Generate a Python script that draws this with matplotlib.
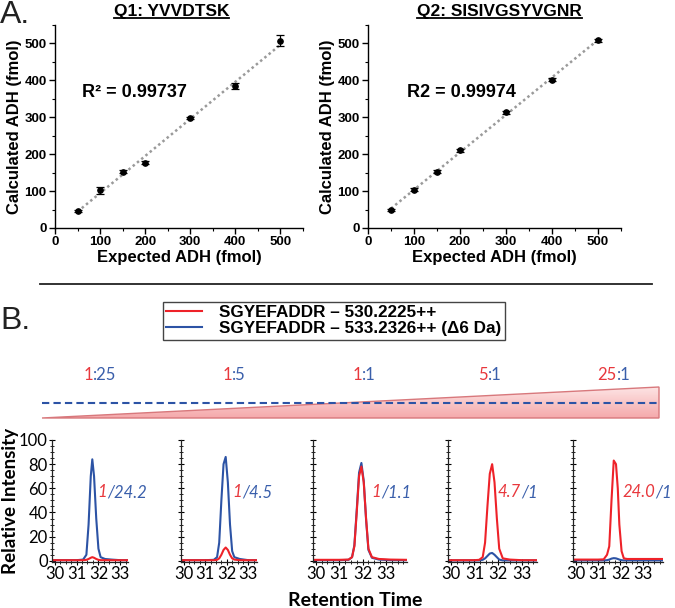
import numpy as np
import matplotlib.pyplot as plt
from matplotlib.ticker import MultipleLocator
from matplotlib.patches import Polygon
from matplotlib.colors import LinearSegmentedColormap

W, H = 675, 608
plt.rcParams['font.family'] = ['Liberation Sans', 'DejaVu Sans']

# ---- panel A: calibration data
expected = [50, 100, 150, 200, 300, 400, 500]
q1_calc = [45, 102, 153, 177, 298, 384, 508]
q1_err = [3, 10, 4, 4, 4, 8, 15]
q2_calc = [48, 104, 153, 211, 313, 402, 509]
q2_err = [3, 4, 4, 4, 4, 4, 4]
q_titles = ["Q1: YVVDTSK", "Q2: SISIVGSYVGNR"]
r2_labels = ["R\u00b2 = 0.99737", "R2 = 0.99974"]

# ---- panel B: extracted ion chromatograms (light red / heavy blue)
legend_labels = ["SGYEFADDR \u2013 530.2225++", "SGYEFADDR \u2013 533.2326++ (\u03946 Da)"]
mix_red = ["1", "1", "1", "5", "25"]
mix_blue = [":25", ":5", ":1", ":1", ":1"]
meas_red = ["1", "1", "1", "4.7", "24.0"]
meas_blue = ["/24.2", "/4.5", "/1.1", "/1", "/1"]

time1 = [29.9, 30.5, 31.0, 31.3, 31.45, 31.55, 31.65, 31.72, 31.8, 31.9, 32.0, 32.1, 32.3, 32.6, 33.0, 33.35]
blue1 = [0.5, 0.5, 0.5, 1, 5, 30, 70, 84, 70, 35, 10, 3, 1.5, 1, 0.5, 0.5]
red1 = [0.5, 0.5, 0.5, 0.5, 0.8, 1.5, 2.5, 3, 2.5, 1.5, 0.8, 0.5, 0.5, 0.5, 0.5, 0.5]

time2 = [29.9, 30.5, 31.0, 31.4, 31.55, 31.65, 31.75, 31.85, 31.95, 32.05, 32.15, 32.25, 32.35, 32.6, 33.0, 33.4]
blue2 = [0.5, 0.5, 0.5, 0.8, 3, 15, 50, 80, 86, 65, 30, 8, 3, 1.5, 0.5, 0.5]
red2 = [0.5, 0.5, 0.5, 0.5, 0.8, 2, 5, 9, 11, 9, 5, 2, 1, 0.5, 0.5, 0.5]

time3 = [29.9, 30.5, 31.0, 31.4, 31.55, 31.65, 31.75, 31.85, 31.95, 32.05, 32.15, 32.25, 32.4, 32.7, 33.2, 33.9]
blue3 = [0.5, 0.5, 0.5, 0.8, 3, 13, 42, 73, 81, 66, 34, 9, 2.5, 1, 0.5, 0.5]
red3 = [0.8, 0.8, 0.8, 1, 3, 12, 40, 70, 78, 65, 35, 10, 3, 1.5, 1, 0.8]

time4 = [29.9, 30.5, 31.0, 31.2, 31.35, 31.45, 31.55, 31.65, 31.75, 31.85, 31.95, 32.05, 32.2, 32.5, 33.0, 33.65]
blue4 = [0.3, 0.3, 0.3, 0.3, 0.8, 2, 4, 6, 6.5, 5, 3, 1, 0.3, 0.3, 0.3, 0.3]
red4 = [0.5, 0.5, 0.5, 0.8, 3, 15, 45, 72, 80, 65, 35, 10, 2, 1, 0.5, 0.5]

time5 = [29.9, 30.5, 31.0, 31.25, 31.4, 31.5, 31.6, 31.7, 31.8, 31.88, 31.95, 32.05, 32.15, 32.3, 32.6, 33.0, 33.9]
blue5 = [0.3, 0.3, 0.3, 0.3, 0.5, 1, 1.8, 2.2, 2, 1.5, 1, 0.5, 0.3, 0.3, 0.3, 0.3, 0.3]
red5 = [1, 1, 1, 1.2, 5, 12, 50, 83, 80, 60, 30, 8, 2, 1.5, 1.5, 1.5, 1.5]

times = [time1, time2, time3, time4, time5]
blues = [blue1, blue2, blue3, blue4, blue5]
reds = [red1, red2, red3, red4, red5]

RED = '#ee2229'
BLUE = '#2c53a5'
TXT_RED = '#e8383d'
TXT_BLUE = '#3a5fab'


def rect(x0, y0, x1, y1):
    return [x0 / W, 1 - y1 / H, (x1 - x0) / W, (y1 - y0) / H]


fig = plt.figure(figsize=(W / 100, H / 100), dpi=100)

# overlay in pixel coordinates for the decorations
ov = fig.add_axes([0, 0, 1, 1])
ov.axis('off')

ov.text(0, 0, "A.", fontsize=23, va='top', ha='left', color='#222')
ov.text(0, 306, "B.", fontsize=23, va='top', ha='left', color='#222')
ov.plot([40, 652], [284, 284], color='#222', lw=1.3)

# ratio wedge
wedge_x0, wedge_x1, wedge_top, wedge_bot = 42, 659, 387, 418
poly = Polygon([[wedge_x0, wedge_bot], [wedge_x1, wedge_top], [wedge_x1, wedge_bot]],
               closed=True, facecolor='none', edgecolor='#d8787c', lw=1.0, zorder=3)
ov.add_patch(poly)
cmap = LinearSegmentedColormap.from_list('pink', ['#fde4e4', '#f5a9ab'])
grad = np.linspace(0, 1, 64).reshape(-1, 1)
im = ov.imshow(grad, cmap=cmap, extent=[wedge_x0, wedge_x1, wedge_bot, wedge_top],
               aspect='auto', zorder=2)
im.set_clip_path(poly)
ov.plot([wedge_x0, wedge_x1], [403, 403], color=BLUE, lw=1.5, ls=(0, (3.5, 2)), zorder=4)
ov.set_xlim(0, W)
ov.set_ylim(H, 0)

# ---- panel A
a_rects = [rect(55, 25, 303, 228), rect(368, 25, 621, 228)]
calcs = [q1_calc, q2_calc]
errs = [q1_err, q2_err]
r2_pos = [(59, 367), (85, 367)]
title_x = [0.47, 0.52]
titles = []
for i in range(2):
    ax = fig.add_axes(a_rects[i])
    ax.set_facecolor('none')
    ax.errorbar(expected, calcs[i], yerr=errs[i], fmt='o', color='black', ms=3.8,
                capsize=3.2, elinewidth=0.9, capthick=0.9, zorder=3)
    k, b = np.polyfit(expected, calcs[i], 1)
    xs = np.array([expected[0], expected[-1]])
    ax.plot(xs, k * xs + b, color='#9a9a9a', lw=1.8, ls=(0, (1, 1.2)), zorder=2)
    ax.set_xlim(0, 550)
    ax.set_ylim(0, 550)
    ax.xaxis.set_minor_locator(MultipleLocator(50))
    ax.yaxis.set_minor_locator(MultipleLocator(50))
    ax.set_xticks([0, 100, 200, 300, 400, 500])
    ax.set_yticks([0, 100, 200, 300, 400, 500])
    for s in ['top', 'right']:
        ax.spines[s].set_visible(False)
    for s in ['left', 'bottom']:
        ax.spines[s].set_linewidth(1.0)
    ax.tick_params(which='major', direction='out', length=4, width=1, labelsize=9.5, pad=2)
    ax.tick_params(which='minor', direction='out', length=2.5, width=0.8)
    for lab in ax.get_xticklabels() + ax.get_yticklabels():
        lab.set_fontweight('bold')
    ax.set_xlabel("Expected ADH (fmol)", fontsize=12, fontweight='bold', labelpad=1)
    ax.set_ylabel("Calculated ADH (fmol)", fontsize=12, fontweight='bold', labelpad=2)
    ax.text(r2_pos[i][0], r2_pos[i][1], r2_labels[i], fontsize=13, fontweight='bold',
            va='center', ha='left')
    t = ax.text(title_x[i], 1.03, q_titles[i], transform=ax.transAxes, fontsize=12.5,
                fontweight='bold', ha='center', va='bottom')
    titles.append(t)

# ---- panel B chromatograms
b_x = [(52, 128), (181, 257), (313, 407), (448, 537), (573, 663)]
x_max = [33.35, 33.4, 33.9, 33.65, 33.9]
meas_x = [0.60, 0.68, 0.62, 0.56, 0.55]
mix_x = [100, 234, 364, 490, 614]
cfont = ['Lato', 'DejaVu Sans']
chrom_axes = []
mix_pairs = []
for i in range(5):
    ax = fig.add_axes(rect(b_x[i][0], 440, b_x[i][1], 562))
    ax.set_facecolor('none')
    lb, = ax.plot(times[i], blues[i], color=BLUE, lw=1.5)
    lr, = ax.plot(times[i], reds[i], color=RED, lw=1.5)
    if i == 0:
        handles = [lr, lb]
    ax.set_xlim(29.88, x_max[i])
    ax.set_ylim(-1, 100)
    ax.set_xticks([30, 31, 32, 33])
    ax.xaxis.set_minor_locator(MultipleLocator(0.25))
    ax.set_yticks([0, 20, 40, 60, 80, 100])
    ax.yaxis.set_minor_locator(MultipleLocator(5))
    for s in ['top', 'right']:
        ax.spines[s].set_visible(False)
    for s in ['left', 'bottom']:
        ax.spines[s].set_color('#222')
        ax.spines[s].set_linewidth(0.9)
    ax.tick_params(which='major', direction='inout', length=4, width=0.8, pad=1, labelsize=12)
    ax.tick_params(which='minor', direction='inout', length=2.2, width=0.6)
    for lab in ax.get_xticklabels() + ax.get_yticklabels():
        lab.set_family(cfont)
    if i > 0:
        ax.tick_params(axis='y', labelleft=False)
    # measured ratio inside the plot
    tr = ax.text(meas_x[i], 0.57, meas_red[i], transform=ax.transAxes, color=TXT_RED,
                 fontsize=12, style='italic', family=cfont, va='center', ha='left')
    ax.annotate(meas_blue[i], xy=(1, 0), xycoords=tr, va='bottom', ha='left',
                color=TXT_BLUE, fontsize=12, style='italic', family=cfont)
    # mixing ratio above the wedge (red part, then blue part right after it)
    part = ov.text(mix_x[i], 375, mix_red[i], color=TXT_RED, fontsize=12,
                   family=cfont, ha='left', va='center')
    rest = ov.annotate(mix_blue[i], xy=(1, 0), xycoords=part, color=TXT_BLUE, fontsize=12,
                       family=cfont, ha='left', va='bottom')
    mix_pairs.append((part, rest))
    chrom_axes.append(ax)

chrom_axes[0].set_ylabel("Relative Intensity", fontsize=13.5, fontweight='bold',
                         family=cfont, labelpad=0)
fig.text(355 / W, 1 - 600 / H, "Retention Time", fontsize=14, fontweight='bold',
         family=cfont, ha='center', va='center')

leg = fig.legend(handles, legend_labels, loc='upper left',
                 bbox_to_anchor=(163 / W, 1 - 302 / H), frameon=True, fancybox=False,
                 edgecolor='#444', framealpha=1, prop=dict(weight='bold', size=12.3),
                 handlelength=2.1, borderpad=0.2, labelspacing=0.05, handletextpad=1.0,
                 borderaxespad=0)
leg.get_frame().set_linewidth(1.0)

# underline the panel A titles and centre the two-colour mixing ratios
fig.canvas.draw()
renderer = fig.canvas.get_renderer()
for t in titles:
    bb = t.get_window_extent(renderer)
    y = bb.y0 + 1
    fig.add_artist(plt.Line2D([bb.x0 / W, bb.x1 / W], [y / H, y / H], color='black', lw=1.3))
for i, (part, rest) in enumerate(mix_pairs):
    width = rest.get_window_extent(renderer).x1 - part.get_window_extent(renderer).x0
    part.set_x(mix_x[i] - width / 2)

fig.savefig('out.png', dpi=100)
